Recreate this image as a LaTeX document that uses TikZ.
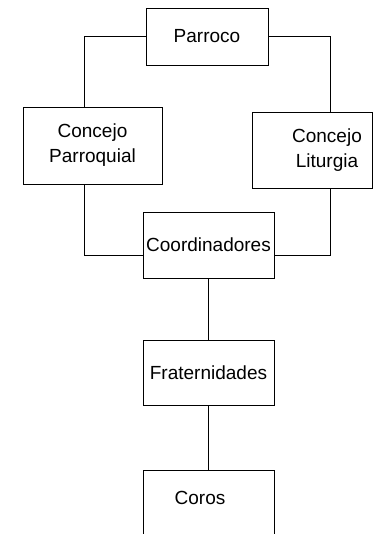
\documentclass[tikz,border=0pt]{standalone}
\usepackage{fontspec}
\setmainfont{Liberation Sans}
\usetikzlibrary{positioning}

\begin{document}
\begin{tikzpicture}[x=1pt, y=-1pt,
  every node/.style={font=\fontsize{19}{25}\selectfont},
  block/.style={rectangle, draw, line width=0.8pt, align=center, inner sep=2pt},
  link/.style={draw, line width=0.8pt}]

\useasboundingbox (0,0) rectangle (373,534);

\node[block, minimum width=122pt, minimum height=57pt] (parroco) at (207,36.5) {Parroco};
\node[block, minimum width=139pt, minimum height=77pt] (cparroquial) at (92.5,145.5) {Concejo\\Parroquial};
\node[block, minimum width=120pt, minimum height=76pt] (cliturgia) at (312.5,150) {\hspace*{29pt}Concejo\\\hspace*{29pt}Liturgia};
\node[block, minimum width=131pt, minimum height=66pt] (coord) at (208.5,245) {Coordinadores};
\node[block, minimum width=131pt, minimum height=65pt] (frat) at (208.5,372.5) {Fraternidades};
\node[block, minimum width=131pt, anchor=north, inner ysep=4pt,
  text height=30pt, text depth=70pt] (coros) at (208.5,470) {Coros\hspace*{17pt}};

\draw[link] (parroco.west) -| ([xshift=-8.5pt]cparroquial.north);
\draw[link] (parroco.east) -| ([xshift=17.5pt]cliturgia.north);
\draw[link] ([xshift=-8.5pt]cparroquial.south) |- ([yshift=-10pt]coord.west);
\draw[link] ([xshift=17.5pt]cliturgia.south) |- ([yshift=-10pt]coord.east);
\draw[link] (coord) -- (frat);
\draw[link] (frat) -- (coros);

\end{tikzpicture}
\end{document}
